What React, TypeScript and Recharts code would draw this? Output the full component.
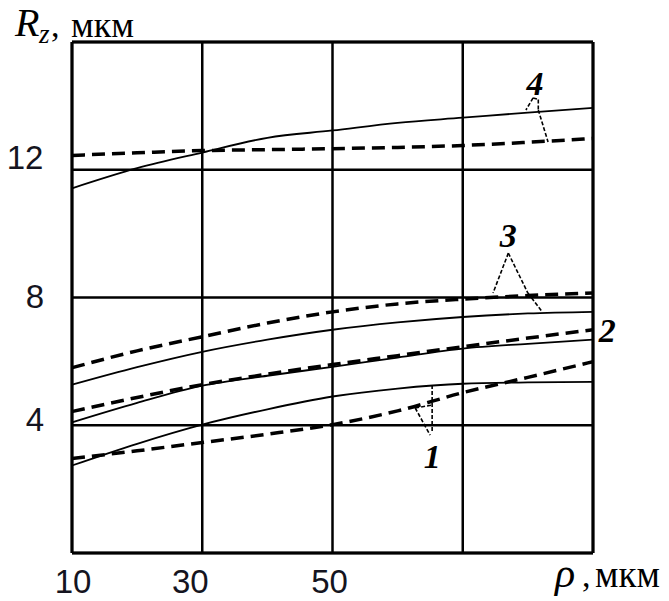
import { LineChart, Line, XAxis, YAxis, CartesianGrid, ReferenceLine, ReferenceDot } from 'recharts'

// rho, мкм
const rho = [10, 20, 30, 40, 50, 60, 70, 80, 90]

// Rz, мкм — solid (thin) and dashed (thick) curve for each case 1..4
const rz1Solid = [2.74, 3.42, 4.02, 4.5, 4.9, 5.15, 5.3, 5.34, 5.36]
const rz1Dashed = [2.96, 3.2, 3.46, 3.72, 4.02, 4.45, 5.02, 5.5, 5.99]
const rz2Solid = [4.09, 4.7, 5.24, 5.55, 5.83, 6.12, 6.4, 6.55, 6.68]
const rz2Dashed = [4.43, 4.87, 5.27, 5.6, 5.9, 6.18, 6.46, 6.73, 6.99]
const rz3Solid = [5.27, 5.82, 6.3, 6.68, 6.99, 7.22, 7.39, 7.5, 7.55]
const rz3Dashed = [5.8, 6.33, 6.77, 7.2, 7.55, 7.8, 7.95, 8.06, 8.14]
const rz4Solid = [11.42, 12.05, 12.54, 13.0, 13.23, 13.47, 13.63, 13.79, 13.94]
const rz4Dashed = [12.45, 12.53, 12.6, 12.63, 12.66, 12.7, 12.76, 12.86, 12.98]

const xTicks = [10, 30, 50, 70, 90]
const xTickLabels = [10, 30, 50]
const yTicks = [0, 4, 8, 12, 16]
const yTickLabels = [4, 8, 12]

// curve numbers and their leader lines, in data units
const curveLabels = [
  { text: '1', x: 65.3, y: 2.66 },
  { text: '2', x: 92.2, y: 6.61 },
  { text: '3', x: 77.0, y: 9.58 },
  { text: '4', x: 81.1, y: 14.35 }
]
const leaders = [
  [[65.3, 5.26], [65.3, 3.76]],
  [[62.7, 4.54], [65.3, 4.63]],
  [[62.7, 4.54], [65.0, 3.69]],
  [[77.0, 9.39], [74.65, 8.14]],
  [[77.0, 9.39], [80.0, 8.14]],
  [[80.0, 8.14], [82.2, 7.55]],
  [[80.8, 14.25], [79.7, 13.87]],
  [[80.8, 14.25], [81.6, 14.2]],
  [[81.6, 14.2], [81.6, 13.87]],
  [[81.6, 13.87], [83.1, 12.87]]
]

const data = rho.map((r, i) => ({
  rho: r,
  s1: rz1Solid[i],
  d1: rz1Dashed[i],
  s2: rz2Solid[i],
  d2: rz2Dashed[i],
  s3: rz3Solid[i],
  d3: rz3Dashed[i],
  s4: rz4Solid[i],
  d4: rz4Dashed[i]
}))

const xShift: Record<number, number> = { 10: 1, 30: -12, 50: -3 }
const yShift: Record<number, [number, number]> = { 4: [-29, 6], 8: [-29, 10], 12: [-39, -1] }

function XTick({ x, y, payload }: any) {
  if (!xTickLabels.includes(payload.value)) return null
  return (
    <text x={x + (xShift[payload.value] || 0)} y={y} dy={32} textAnchor="middle"
      fontFamily="Liberation Sans, Arial, sans-serif" fontSize={33} fill="#141420">
      {payload.value}
    </text>
  )
}

function YTick({ x, y, payload }: any) {
  if (!yTickLabels.includes(payload.value)) return null
  const [dx, dy] = yShift[payload.value]
  return (
    <text x={x + dx} y={y + dy} textAnchor="middle"
      fontFamily="Liberation Sans, Arial, sans-serif" fontSize={33} fill="#141420">
      {payload.value}
    </text>
  )
}

const serif = 'Liberation Serif, Times New Roman, serif'

export default function App() {
  const solid = { stroke: '#000', strokeWidth: 1.8, dot: false, type: 'monotone' as const, isAnimationActive: false }
  const dashed = { stroke: '#000', strokeWidth: 3.5, strokeDasharray: '13 7', dot: false, type: 'monotone' as const, isAnimationActive: false }

  return (
    <div style={{ position: 'absolute', left: 0, top: 0, width: 669, height: 601, background: '#fff' }}>
      <LineChart width={669} height={601} data={data} margin={{ top: 42, right: 76, left: 0, bottom: 0 }}>
        <CartesianGrid stroke="#000" strokeWidth={2.5} />
        <XAxis type="number" dataKey="rho" domain={[10, 90]} ticks={xTicks} height={48}
          axisLine={false} tickLine={false} tick={<XTick />} interval={0} />
        <YAxis type="number" domain={[0, 16]} ticks={yTicks} width={72}
          axisLine={false} tickLine={false} tick={<YTick />} interval={0} />
        <ReferenceLine x={10} stroke="#000" strokeWidth={3} />
        <ReferenceLine x={90} stroke="#000" strokeWidth={3} />
        <ReferenceLine y={0} stroke="#000" strokeWidth={3} />
        <ReferenceLine y={16} stroke="#000" strokeWidth={3} />
        <Line dataKey="s1" {...solid} />
        <Line dataKey="d1" {...dashed} />
        <Line dataKey="s2" {...solid} />
        <Line dataKey="d2" {...dashed} />
        <Line dataKey="s3" {...solid} />
        <Line dataKey="d3" {...dashed} />
        <Line dataKey="s4" {...solid} />
        <Line dataKey="d4" {...dashed} />
        {leaders.map((seg, i) => (
          <ReferenceLine key={`ld-${i}`} ifOverflow="visible" stroke="#000" strokeWidth={1.6} strokeDasharray="4 2"
            segment={[{ x: seg[0][0], y: seg[0][1] }, { x: seg[1][0], y: seg[1][1] }]} />
        ))}
        {curveLabels.map((c) => (
          <ReferenceDot key={`cl-${c.text}`} x={c.x} y={c.y} r={0} ifOverflow="visible"
            shape={(p: any) => (
              <text x={p.cx} y={p.cy} textAnchor="middle" fontFamily={serif} fontStyle="italic"
                fontWeight="bold" fontSize={34} fill="#000">
                {c.text}
              </text>
            )} />
        ))}
      </LineChart>
      <svg width={669} height={601} style={{ position: 'absolute', left: 0, top: 0, pointerEvents: 'none' }}>
        <text x={15} y={36} fontFamily={serif} fontStyle="italic" fontSize={40}>R</text>
        <text x={39} y={43} fontFamily={serif} fontStyle="italic" fontSize={27}>z</text>
        <text x={51} y={37} fontFamily={serif} fontSize={34}>,</text>
        <text x={71} y={37} fontFamily={serif} fontSize={36}>мкм</text>
        <text x={555} y={587} fontFamily={serif} fontStyle="italic" fontSize={42}>ρ</text>
        <text x={582} y={587} fontFamily={serif} fontSize={34}>,</text>
        <text x={595} y={587} fontFamily={serif} fontSize={37}>мкм</text>
      </svg>
    </div>
  )
}
